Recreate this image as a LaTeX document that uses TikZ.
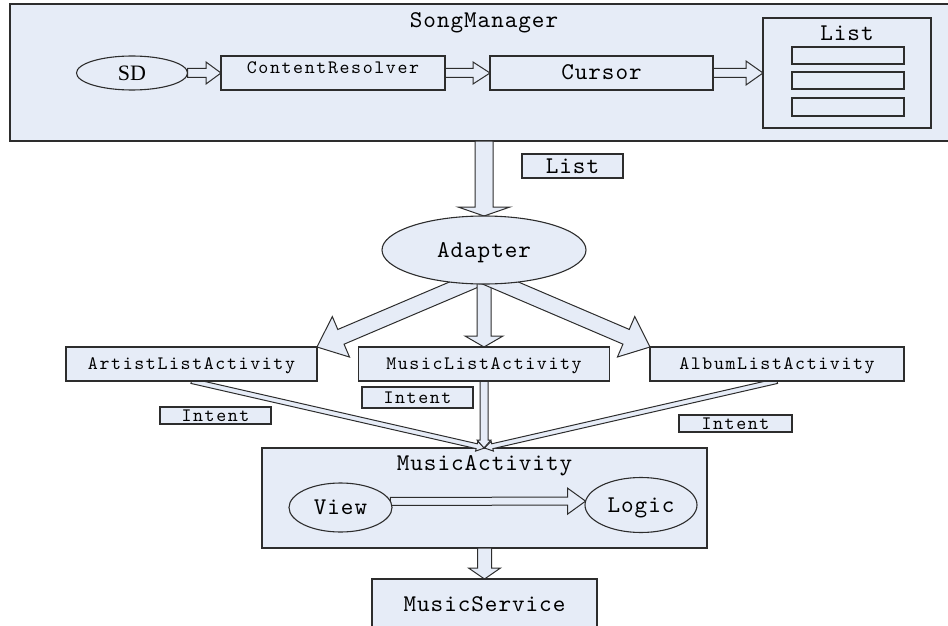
\documentclass[tikz,border=0pt]{standalone}
\usepackage{fontspec}
\usetikzlibrary{calc,shapes.geometric}

% label fonts: spaced-out typewriter face in two sizes, serif for "SD"
\newfontfamily\bigmono{lmmono10-regular.otf}[LetterSpace=4]
\newfontfamily\smallmono{lmmono10-regular.otf}[LetterSpace=8.5]
\newfontfamily\sdfont{Liberation Serif}

\definecolor{boxfill}{RGB}{230,236,247}
\definecolor{boxline}{RGB}{45,45,45}

\pgfdeclarelayer{back}
\pgfdeclarelayer{mid}
\pgfsetlayers{back,mid,main}

\tikzset{
  base/.style={draw=boxline, fill=boxfill, line width=1.1pt, inner sep=0pt, outer sep=0pt},
  rbox/.style={base, rectangle},
  obox/.style={base, ellipse},
  bigtxt/.style={font=\bigmono\fontsize{24}{28}\selectfont, text height=14.6pt, text depth=0pt, inner sep=0pt},
  smalltxt/.style={font=\smallmono\fontsize{19}{22}\selectfont, text height=11.6pt, text depth=0pt, inner sep=0pt},
  hollow/.style={draw=boxline, fill=boxfill, line width=1pt, line join=miter},
}

% hollow block arrow: [style] {from} {to} {body half width} {head half width} {head length}
\newcommand\hollowarrow[6][]{%
  \coordinate (hb) at ($(#3)!#6!(#2)$);
  \draw[hollow,#1]
    ($(#2)!#4!90:(#3)$) -- ($(hb)!#4!90:(#3)$) -- ($(hb)!#5!90:(#3)$)
    -- (#3)
    -- ($(hb)!#5!-90:(#3)$) -- ($(hb)!#4!-90:(#3)$) -- ($(#2)!#4!-90:(#3)$) -- cycle;
}

\begin{document}
\begin{tikzpicture}[x=1pt,y=-1pt]
\useasboundingbox (0,0) rectangle (948,626);

% containers
\begin{pgfonlayer}{back}
  \node[rbox, minimum width=940pt, minimum height=137pt] (songmgr) at (480,72.5) {};
  \node[rbox, minimum width=445pt, minimum height=100pt] (musicact) at (484.5,498) {};
\end{pgfonlayer}

% SongManager contents
\node[bigtxt] (songtitle) at (484,20) {SongManager};
\node[obox, minimum width=111pt, minimum height=34pt, font=\sdfont\fontsize{22}{26}\selectfont] (sd) at (132,73) {SD};
\node[rbox, minimum width=224pt, minimum height=34pt] (cr) at (333,73) {};
\node[smalltxt] (crtext) at (333,67.5) {ContentResolver};
\node[rbox, minimum width=223pt, minimum height=34pt] (cursor) at (601.5,73) {};
\node[bigtxt] (cursortext) at (601.5,72) {Cursor};
\node[rbox, minimum width=168pt, minimum height=110pt] (listbox) at (847,73) {};
\node[bigtxt] (listtitle) at (847,33) {List};
\node[rbox, minimum width=112pt, minimum height=17pt] (item1) at (848,55.5) {};
\node[rbox, minimum width=112pt, minimum height=17pt] (item2) at (848,80.5) {};
\node[rbox, minimum width=112pt, minimum height=18pt] (item3) at (848,107) {};

% middle part
\node[rbox, bigtxt, minimum width=101pt, minimum height=24pt] (listlbl) at (572.5,166) {List};
\node[obox, bigtxt, minimum width=204pt, minimum height=68pt] (adapter) at (484,250) {Adapter};

\node[rbox, smalltxt, minimum width=251pt, minimum height=34pt] (artist) at (191.5,364) {ArtistListActivity};
\node[rbox, smalltxt, minimum width=251pt, minimum height=34pt] (musiclist) at (484,364) {MusicListActivity};
\node[rbox, smalltxt, minimum width=254pt, minimum height=34pt] (album) at (777,364) {AlbumListActivity};

\node[rbox, smalltxt, minimum width=111pt, minimum height=17pt] (intent1) at (215.5,415.5) {Intent};
\node[rbox, smalltxt, minimum width=111pt, minimum height=21pt] (intent2) at (417.5,397.5) {Intent};
\node[rbox, smalltxt, minimum width=113pt, minimum height=17pt] (intent3) at (735.5,423.5) {Intent};

% MusicActivity contents
\node[bigtxt] (matitle) at (484.5,463.5) {MusicActivity};
\node[obox, bigtxt, minimum width=103pt, minimum height=49pt] (view) at (340.5,507.5) {View};
\node[obox, bigtxt, minimum width=112pt, minimum height=55pt] (logic) at (641,505) {Logic};

\node[rbox, bigtxt, minimum width=225pt, minimum height=50pt] (musicsvc) at (484.5,604) {MusicService};

% block arrows, behind the boxes
\begin{pgfonlayer}{mid}
  \hollowarrow{sd.east}{cr.west}{4.5pt}{11pt}{15pt}
  \hollowarrow{cr.east}{cursor.west}{4.5pt}{11pt}{17pt}
  \hollowarrow{cursor.east}{listbox.west}{4.5pt}{12pt}{17pt}

  \coordinate (smout) at (adapter.north |- songmgr.south);
  \hollowarrow{smout}{adapter.north}{9pt}{26pt}{9pt}

  \coordinate (adin) at ($(adapter.south)+(0,-8)$);
  \hollowarrow{adin}{artist.north east}{8pt}{22pt}{26pt}
  \hollowarrow{adin}{musiclist.north}{7pt}{19pt}{11pt}
  \hollowarrow{adin}{album.north west}{8pt}{22pt}{26pt}

  \hollowarrow{artist.south}{musicact.north}{2.5pt}{5pt}{8pt}
  \hollowarrow{album.south}{musicact.north}{2.5pt}{5pt}{8pt}
  \coordinate (mlin) at (musiclist.south |- musicact.north);
  \hollowarrow{musiclist.south}{mlin}{4pt}{7pt}{8pt}

  \hollowarrow{view.7}{logic.176}{4pt}{13pt}{18pt}
  \hollowarrow{musicact.south}{musicsvc.north}{7pt}{16pt}{11pt}
\end{pgfonlayer}
\end{tikzpicture}
\end{document}
